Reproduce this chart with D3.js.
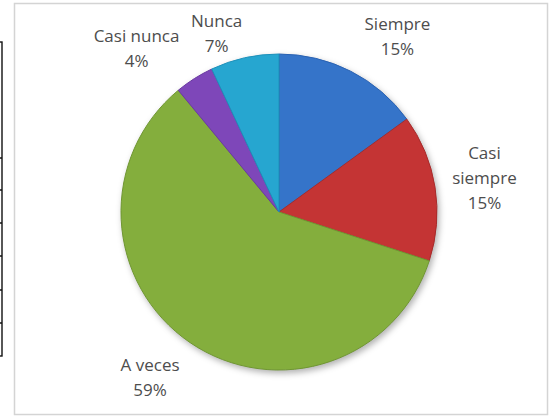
<!DOCTYPE html>
<html>
<head>
<meta charset="utf-8">
<script src="https://cdn.jsdelivr.net/npm/d3@7"></script>
<style>
html,body{margin:0;padding:0;background:#fff;}
svg{display:block;}
</style>
</head>
<body>
<script>
// ---- data ----
const categories = ["Siempre", "Casi siempre", "A veces", "Casi nunca", "Nunca"];
const values = [15, 15, 59, 4, 7];
const labelLines = [["Siempre"], ["Casi", "siempre"], ["A veces"], ["Casi nunca"], ["Nunca"]];
const baseColors = ["#3f86e0", "#e03e3e", "#98c648", "#9254cf", "#2fbce6"];
const edgeColors = ["#2a62b2", "#a82a2a", "#6f9632", "#6a3aa2", "#1d90ba"];

// ---- layout ----
const W = 551, H = 419;
const cx = 279, cy = 212, R = 158, labelR = 208;
const nudges = [[24, 10], [0, -1], [-12, -6], [-31, 12], [-17, 25]];
const lineH = 25;

const svg = d3.select("body").append("svg").attr("width", W).attr("height", H);
const defs = svg.append("defs");

// left table fragment
const tbl = svg.append("g").attr("stroke", "#111").attr("stroke-width", 1.4).attr("fill", "none");
tbl.append("rect").attr("x", -10).attr("y", 42).attr("width", 12).attr("height", 314);
[158, 190, 223, 256, 290, 323].forEach(y => tbl.append("line").attr("x1", 0).attr("x2", 2).attr("y1", y).attr("y2", y));

// chart frame
svg.append("rect").attr("x", 14.5).attr("y", 3.5).attr("width", 533).attr("height", 411)
  .attr("fill", "#fff").attr("stroke", "#d4d4d4").attr("stroke-width", 1.5);

// gradients
baseColors.forEach((c, i) => {
  const g = defs.append("radialGradient").attr("id", "g" + i)
    .attr("gradientUnits", "userSpaceOnUse").attr("cx", cx).attr("cy", cy).attr("r", R);
  g.append("stop").attr("offset", "0%").attr("stop-color", d3.color(c).brighter(0.1).formatHex());
  g.append("stop").attr("offset", "88%").attr("stop-color", c);
  g.append("stop").attr("offset", "100%").attr("stop-color", d3.interpolateRgb(c, edgeColors[i])(0.5));
});
const f = defs.append("filter").attr("id", "sh").attr("x", "-20%").attr("y", "-20%").attr("width", "140%").attr("height", "140%")
  .attr("color-interpolation-filters", "sRGB");
f.append("feDropShadow").attr("dx", 2).attr("dy", 3).attr("stdDeviation", 3).attr("flood-color", "#000").attr("flood-opacity", 0.3);

const pie = d3.pie().sort(null).value(d => d)(values);
const arc = d3.arc().innerRadius(0).outerRadius(R);
const labelArc = d3.arc().innerRadius(labelR).outerRadius(labelR);

const gp = svg.append("g").attr("transform", `translate(${cx},${cy})`);
const pieG = gp.append("g").attr("filter", "url(#sh)");
pieG.selectAll("path").data(pie).join("path")
  .attr("d", arc)
  .attr("fill", (d, i) => `url(#g${i})`)
  .attr("stroke", (d, i) => edgeColors[i])
  .attr("stroke-width", 1)
  .attr("stroke-linejoin", "round");

// labels
const total = d3.sum(values);
const lab = gp.selectAll("g.lab").data(pie).join("g").attr("class", "lab")
  .attr("transform", (d, i) => {
    const [x, y] = labelArc.centroid(d);
    return `translate(${x + nudges[i][0]},${y + nudges[i][1]})`;
  });
lab.each(function(d, i) {
  const lines = labelLines[i].concat([Math.round(values[i] / total * 100) + "%"]);
  const t = d3.select(this).append("text")
    .attr("text-anchor", "middle")
    .attr("font-family", "'Open Sans', sans-serif")
    .attr("font-size", 17)
    .attr("fill", "#4d4d4d");
  const n = lines.length;
  lines.forEach((s, k) => {
    t.append("tspan").attr("x", 0).attr("y", (k - (n - 1) / 2) * lineH).attr("dy", "0.35em").text(s);
  });
});
</script>
</body>
</html>
